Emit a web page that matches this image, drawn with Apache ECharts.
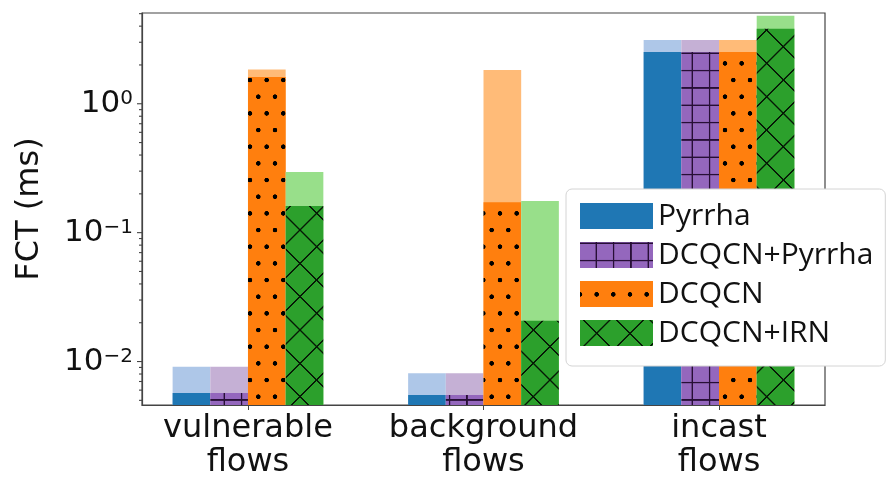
<!DOCTYPE html>
<html>
<head>
<meta charset="utf-8">
<script src="https://cdn.jsdelivr.net/npm/echarts@6/dist/echarts.min.js"></script>
<style>
  html, body { margin: 0; padding: 0; background: #fff; }
  #chart { width: 893px; height: 481px; }
</style>
</head>
<body>
<div id="chart"></div>
<script>
// Flow categories on the x axis
const categories = ['vulnerable\nflows', 'background\nflows', 'incast\nflows'];
const seriesNames = ['Pyrrha', 'DCQCN+Pyrrha', 'DCQCN', 'DCQCN+IRN'];

// Flow completion time (ms): median (solid/hatched bar) and tail (light bar)
const pyrrhaMedian      = [0.0057, 0.0055, 2.52];
const pyrrhaTail        = [0.0091, 0.0081, 3.12];
const dcqcnPyrrhaMedian = [0.0057, 0.0055, 2.52];
const dcqcnPyrrhaTail   = [0.0091, 0.0081, 3.12];
const dcqcnMedian       = [1.61, 0.172, 2.52];
const dcqcnTail         = [1.84, 1.83, 3.12];
const irnMedian         = [0.161, 0.0207, 3.82];
const irnTail           = [0.295, 0.176, 4.82];

// Log-axis ticks
const yTickValues = [0.01, 0.1, 1];
const yTickExponents = ['\u22122', '\u22121', '0'];
const minorTickValues = [0.005, 0.006, 0.007, 0.008, 0.009,
  0.02, 0.03, 0.04, 0.05, 0.06, 0.07, 0.08, 0.09,
  0.2, 0.3, 0.4, 0.5, 0.6, 0.7, 0.8, 0.9,
  2, 3, 4, 5];

const Y_MIN = 0.0046, Y_MAX = 5.06;
const X_MIN = -0.45, X_MAX = 2.45;
const BAR_W = 0.16;

const darkColors  = ['#1f77b4', '#9467bd', '#ff7f0e', '#2ca02c'];
const lightColors = ['#aec7e8', '#c5b0d5', '#ffbb78', '#98df8a'];

// Hatch tiles are drawn at 3x and scaled down in the pattern
const S = 3;
function tile(w, h, base, draw) {
  const c = document.createElement('canvas');
  c.width = Math.round(w * S); c.height = Math.round(h * S);
  const ctx = c.getContext('2d');
  ctx.fillStyle = base;
  ctx.fillRect(0, 0, c.width, c.height);
  draw(ctx, c.width, c.height);
  return c;
}
function gridHatch(base) {
  return {
    image: tile(17.33, 17.33, base, (ctx, w, h) => {
      ctx.strokeStyle = 'rgba(20,0,30,0.85)';
      ctx.lineWidth = 1.5 * S;
      ctx.beginPath();
      ctx.moveTo(0, h / 2); ctx.lineTo(w, h / 2);
      ctx.moveTo(w / 2, 0); ctx.lineTo(w / 2, h);
      ctx.stroke();
    }),
    repeat: 'repeat', scaleX: 1 / S, scaleY: 1 / S, x: 215.6, y: 44.6
  };
}
function dotHatch(base) {
  return {
    image: tile(16.67, 33.33, base, (ctx, w, h) => {
      ctx.fillStyle = '#000';
      const r = 2.3 * S;
      [[w / 4, h / 4], [w * 3 / 4, h * 3 / 4]].forEach(p => {
        ctx.beginPath(); ctx.arc(p[0], p[1], r, 0, Math.PI * 2); ctx.fill();
      });
    }),
    repeat: 'repeat', scaleX: 1 / S, scaleY: 1 / S, x: 245.8, y: 71.7
  };
}
function crossHatch(base) {
  return {
    image: tile(33.33, 33.33, base, (ctx, w, h) => {
      ctx.strokeStyle = 'rgba(0,0,0,0.85)';
      ctx.lineWidth = 1.4 * S;
      ctx.beginPath();
      ctx.moveTo(-10, -10); ctx.lineTo(w + 10, h + 10);
      ctx.moveTo(w + 10, -10); ctx.lineTo(-10, h + 10);
      ctx.stroke();
    }),
    repeat: 'repeat', scaleX: 1 / S, scaleY: 1 / S, x: 283.3, y: 213.3
  };
}

const fills = [darkColors[0], gridHatch(darkColors[1]), dotHatch(darkColors[2]), crossHatch(darkColors[3])];
const medians = [pyrrhaMedian, dcqcnPyrrhaMedian, dcqcnMedian, irnMedian];
const tails = [pyrrhaTail, dcqcnPyrrhaTail, dcqcnTail, irnTail];

function barRenderer(i) {
  return function (params, api) {
    const xc = api.value(0) + (i - 1.5) * BAR_W;
    const base = api.coord([xc - BAR_W / 2, Y_MIN]);
    const right = api.coord([xc + BAR_W / 2, Y_MIN])[0];
    const medTop = api.coord([xc, api.value(1)])[1];
    const tailTop = api.coord([xc, api.value(2)])[1];
    const w = right - base[0];
    return {
      type: 'group',
      children: [
        { type: 'rect', shape: { x: base[0], y: tailTop, width: w, height: base[1] - tailTop },
          style: { fill: lightColors[i] } },
        { type: 'rect', shape: { x: base[0], y: medTop, width: w, height: base[1] - medTop },
          style: { fill: fills[i] } }
      ]
    };
  };
}

const axisFont = 'DejaVu Sans';
const frameColor = '#444';

const series = seriesNames.map((name, i) => ({
  name: name,
  type: 'custom',
  itemStyle: { color: fills[i] },
  encode: { x: 0, y: [1, 2] },
  data: categories.map((c, k) => [k, medians[i][k], tails[i][k]]),
  renderItem: barRenderer(i),
  z: 2
}));

// Major (decade) and minor ticks of the log axis, drawn outward from the left spine
function tickSeries(values, len) {
  return {
    type: 'custom',
    silent: true,
    clip: false,
    encode: { x: 0, y: 1 },
    data: values.map(v => [X_MIN, v]),
    renderItem: function (params, api) {
      const p = api.coord([api.value(0), api.value(1)]);
      return { type: 'line', shape: { x1: p[0] - len, y1: p[1], x2: p[0], y2: p[1] },
        style: { stroke: frameColor, lineWidth: 1.1 } };
    },
    z: 3
  };
}
series.push(tickSeries(yTickValues, 5));
series.push(tickSeries(minorTickValues, 3));

const chart = echarts.init(document.getElementById('chart'), null, { renderer: 'canvas' });
chart.setOption({
  animation: false,
  backgroundColor: '#fff',
  grid: { left: 142, right: 68, top: 13, bottom: 76, show: true,
    borderColor: frameColor, borderWidth: 1.2, backgroundColor: 'transparent' },
  xAxis: {
    type: 'value', min: X_MIN, max: X_MAX,
    splitLine: { show: false },
    axisLine: { show: true, onZero: false, lineStyle: { color: frameColor, width: 1.2 } },
    axisTick: { show: true, customValues: [0, 1, 2], length: 5, lineStyle: { color: frameColor } },
    axisLabel: {
      customValues: [0, 1, 2],
      formatter: v => categories[Math.round(v)],
      fontFamily: axisFont, fontSize: 32, lineHeight: 34, color: '#111', margin: 7
    }
  },
  yAxis: {
    type: 'log', logBase: 10, min: Y_MIN, max: Y_MAX,
    name: 'FCT (ms)', nameLocation: 'middle', nameGap: 96, nameRotate: 90,
    nameTextStyle: { fontFamily: axisFont, fontSize: 32, color: '#111' },
    splitLine: { show: false },
    axisLine: { show: true, onZero: false, lineStyle: { color: frameColor, width: 1.2 } },
    axisTick: { show: false },
    axisLabel: {
      showMinLabel: false, showMaxLabel: false,
      margin: 9,
      formatter: function (v) {
        const idx = yTickValues.findIndex(t => Math.abs(Math.log10(t) - Math.log10(v)) < 1e-6);
        return idx < 0 ? '' : '{b|10}{s|' + yTickExponents[idx] + '}';
      },
      rich: {
        b: { fontFamily: axisFont, fontSize: 31, lineHeight: 30, color: '#111' },
        s: { fontFamily: axisFont, fontSize: 20, lineHeight: 16, verticalAlign: 'top', color: '#111' }
      }
    }
  },
  legend: {
    orient: 'vertical', left: 566, top: 189,
    padding: [12, 12, 18, 14], itemGap: 9, itemWidth: 73, itemHeight: 26,
    backgroundColor: '#fff', borderColor: '#d4d4d4', borderWidth: 1, borderRadius: 6,
    icon: 'rect',
    textStyle: { fontFamily: 'Open Sans', fontSize: 30, color: '#111' },
    data: seriesNames.map((n, i) => ({ name: n, itemStyle: { color: fills[i], borderWidth: 0 } }))
  },
  series: series
});
</script>
</body>
</html>
